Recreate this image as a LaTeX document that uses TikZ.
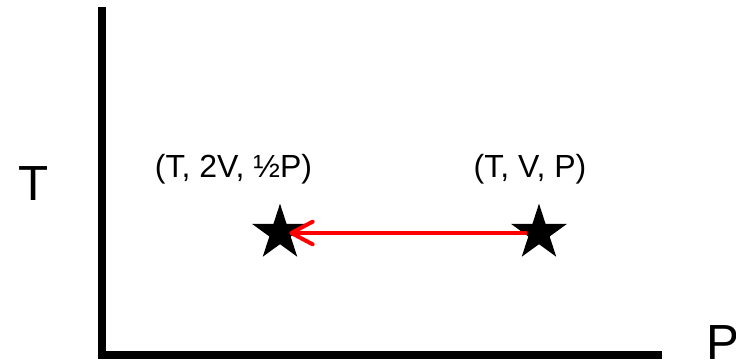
\documentclass[tikz,border=0pt]{standalone}
\usepackage{fontspec}
\setmainfont{Liberation Sans}
\usetikzlibrary{arrows.meta, shapes.geometric, positioning}

\begin{document}
\begin{tikzpicture}[x=0.75pt,y=-0.75pt,on grid,
    axis/.style={line width=6pt,line join=miter},
    starnode/.style={star,star points=5,star point ratio=2.618,fill=black,minimum size=44pt,inner sep=0pt},
    lbl/.style={font=\fontsize{24}{28}\selectfont},
    axlbl/.style={font=\fontsize{37}{42}\selectfont}]
  \useasboundingbox (0,0) rectangle (736,360);

  \coordinate (top)    at (102,7);
  \coordinate (origin) at (102,354.5);
  \coordinate (right)  at (662,354.5);
  \draw[axis] (top) -- (origin) -- (right);

  \node[axlbl] (T) at (34,184) {T};
  \node[axlbl] (P) at (723,343) {P};

  \node[starnode] (ls) at (280,233) {};
  \node[starnode] (rs) at (539,233) {};

  \node[lbl] (lp) at (233.5,169) {(T, 2V, ½P)};
  \node[lbl] (rp) at (530,169)   {(T, V, P)};

  \draw[red,line width=3pt,line cap=round,-{Straight Barb[length=16pt,width=17pt,round]},
        shorten <=10pt,shorten >=7pt] (rs.center) -- (ls.center);
\end{tikzpicture}
\end{document}
